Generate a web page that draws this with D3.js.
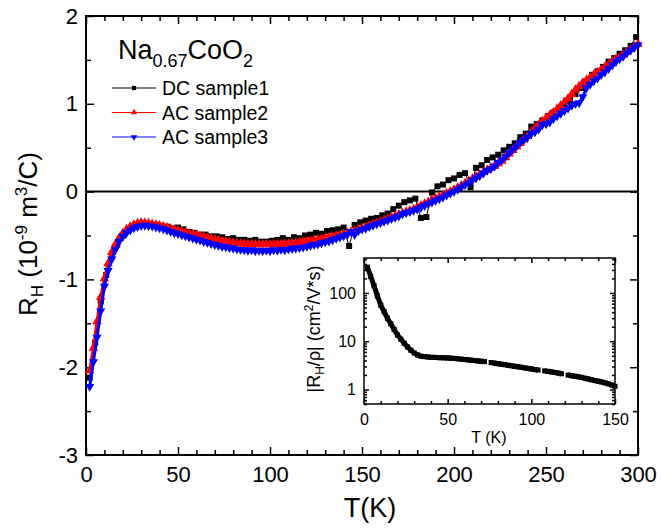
<!DOCTYPE html>
<html>
<head>
<meta charset="utf-8">
<title>Hall coefficient Na0.67CoO2</title>
<script src="https://d3js.org/d3.v7.min.js"></script>
<style>
  body { margin: 0; background: #fff; }
  text { font-family: "Liberation Sans", Arial, sans-serif; fill: #000; }
</style>
</head>
<body>
<svg id="chart" width="663" height="530"></svg>
<script>
// ---- values ----
// AC sweeps, every 2 K
const tempAC = d3.range(2, 301, 2);
const rhSample2 = [
  -2.04, -1.78, -1.48, -1.20, -0.99, -0.82, -0.69, -0.60, -0.53, -0.475,
  -0.43, -0.40, -0.378, -0.362, -0.355, -0.357, -0.362, -0.37, -0.378, -0.388,
  -0.398, -0.41, -0.42, -0.432, -0.445, -0.455, -0.465, -0.475, -0.485, -0.495,
  -0.505, -0.515, -0.525, -0.535, -0.545, -0.555, -0.563, -0.57, -0.577, -0.583,
  -0.588, -0.592, -0.596, -0.598, -0.6, -0.602, -0.603, -0.603, -0.603, -0.602,
  -0.601, -0.6, -0.598, -0.595, -0.592, -0.588, -0.583, -0.578, -0.572, -0.566,
  -0.56, -0.553, -0.546, -0.538, -0.53, -0.521, -0.512, -0.503, -0.494, -0.485,
  -0.473, -0.46, -0.447, -0.433, -0.418, -0.403, -0.388, -0.372, -0.357, -0.342,
  -0.326, -0.31, -0.294, -0.278, -0.262, -0.246, -0.231, -0.216, -0.201, -0.18,
  -0.16, -0.14, -0.12, -0.10, -0.08, -0.06, -0.04, -0.02, 0.0, 0.02,
  0.045, 0.07, 0.095, 0.12, 0.145, 0.17, 0.195, 0.22, 0.245, 0.27,
  0.29, 0.32, 0.35, 0.39, 0.43, 0.47, 0.51, 0.55, 0.59, 0.63,
  0.68, 0.72, 0.76, 0.80, 0.835, 0.87, 0.90, 0.94, 0.98, 1.02,
  1.06, 1.11, 1.16, 1.20, 1.24, 1.27, 1.30, 1.33, 1.36, 1.39,
  1.42, 1.45, 1.48, 1.51, 1.53, 1.56, 1.59, 1.62, 1.65, 1.68
];
const rhSample3 = [
  -2.22, -1.94, -1.66, -1.36, -1.08, -0.90, -0.77, -0.66, -0.57, -0.51,
  -0.47, -0.44, -0.415, -0.40, -0.39, -0.385, -0.39, -0.395, -0.405, -0.415,
  -0.425, -0.44, -0.455, -0.47, -0.48, -0.495, -0.505, -0.52, -0.53, -0.545,
  -0.555, -0.57, -0.58, -0.595, -0.605, -0.615, -0.625, -0.63, -0.64, -0.645,
  -0.655, -0.66, -0.665, -0.67, -0.665, -0.675, -0.67, -0.675, -0.67, -0.675,
  -0.665, -0.67, -0.66, -0.665, -0.655, -0.65, -0.645, -0.64, -0.635, -0.625,
  -0.615, -0.605, -0.6, -0.585, -0.575, -0.565, -0.55, -0.535, -0.52, -0.505,
  -0.49, -0.455, -0.49, -0.45, -0.43, -0.42, -0.40, -0.385, -0.37, -0.355,
  -0.34, -0.325, -0.31, -0.295, -0.28, -0.255, -0.24, -0.23, -0.215, -0.20,
  -0.18, -0.16, -0.14, -0.12, -0.10, -0.085, -0.065, -0.04, -0.02, 0.0,
  0.025, 0.05, 0.075, 0.10, 0.13, 0.155, 0.18, 0.21, 0.24, 0.26,
  0.29, 0.33, 0.36, 0.40, 0.44, 0.48, 0.52, 0.56, 0.59, 0.62,
  0.66, 0.68, 0.71, 0.76, 0.77, 0.79, 0.83, 0.86, 0.89, 0.92,
  0.95, 0.98, 1.00, 1.01, 1.08, 1.18, 1.22, 1.26, 1.29, 1.33,
  1.36, 1.40, 1.44, 1.48, 1.51, 1.54, 1.58, 1.61, 1.64, 1.67
];
// DC sweep, every 3 K
const tempDC = d3.range(2, 300, 3);
const rhSample1 = [
  -2.12, -1.72, -1.25, -0.95, -0.74, -0.60, -0.50, -0.43, -0.40, -0.375,
  -0.37, -0.375, -0.38, -0.39, -0.40, -0.42, -0.41, -0.43, -0.46, -0.47,
  -0.49, -0.49, -0.51, -0.51, -0.52, -0.54, -0.53, -0.55, -0.55, -0.56,
  -0.55, -0.57, -0.57, -0.56, -0.55, -0.53, -0.55, -0.52, -0.53, -0.50,
  -0.49, -0.47, -0.48, -0.45, -0.44, -0.43, -0.41, -0.62, -0.38, -0.35,
  -0.33, -0.31, -0.30, -0.27, -0.25, -0.20, -0.16, -0.12, -0.10, -0.08,
  -0.30, -0.29, -0.01, 0.06, 0.08, 0.13, 0.15, 0.19, 0.21, 0.05,
  0.27, 0.30, 0.36, 0.39, 0.42, 0.47, 0.51, 0.55, 0.62, 0.66,
  0.74, 0.77, 0.81, 0.86, 0.90, 0.94, 0.98, 1.04, 1.11, 1.18,
  1.24, 1.33, 1.37, 1.42, 1.48, 1.52, 1.57, 1.61, 1.66, 1.76
];
// inset |R_H/rho|, every 2 K (null = gap in the trace)
const tempInset = d3.range(2, 151, 2);
const mobility = [
  342, 219, 141, 87, 56, 41, 30, 23, 17.5, 13.5,
  11, 9.1, 7.6, 6.5, 5.7, 5.2, 4.9, 4.8, 4.72, 4.66,
  4.62, 4.58, 4.55, 4.53, 4.5, 4.45, 4.4, 4.33, 4.25, 4.18,
  4.11, 4.05, 3.98, 3.91, 3.85, 3.78, null, 3.62, 3.52, 3.42,
  3.35, 3.27, 3.18, 3.1, 3.02, 2.95, 2.88, 2.8, 2.73, 2.66,
  2.59, 2.53, null, 2.43, 2.37, 2.31, 2.25, 2.19, 2.12, null,
  1.99, 1.93, 1.88, 1.83, 1.78, 1.71, 1.65, 1.59, 1.53, 1.48,
  1.43, 1.37, 1.31, 1.24, 1.16
];

const xTicks = [0, 50, 100, 150, 200, 250, 300];
const yTicks = [-3, -2, -1, 0, 1, 2];
const insetXTicks = [0, 50, 100, 150];
const insetYTicks = [1, 10, 100];

const series = [
  { name: "DC sample1", t: tempDC, v: rhSample1, color: "#000", symbol: d3.symbolSquare, size: 36, flip: false, width: 1 },
  { name: "AC sample2", t: tempAC, v: rhSample2, color: "#ff0000", symbol: d3.symbolTriangle, size: 40, flip: false, width: 3 },
  { name: "AC sample3", t: tempAC, v: rhSample3, color: "#0000ff", symbol: d3.symbolTriangle, size: 36, flip: true, width: 3 }
];

const svg = d3.select("#chart");
const font = 22;

const x = d3.scaleLinear([0, 300], [86, 638]);
const y = d3.scaleLinear([-3, 2], [455, 16]);
const ix = d3.scaleLinear([0, 150], [364, 615]);
const iy = d3.scaleLog([0.5, 530], [404, 258]);

const axisFns = { bottom: d3.axisBottom, top: d3.axisTop, left: d3.axisLeft, right: d3.axisRight };

// ticks point inward, so the size is negative
const addAxis = (side, scale, shift, values, size, pad, fmt, fontSize) => {
  const axis = axisFns[side](scale).tickValues(values).tickSize(-size).tickPadding(pad)
    .tickFormat(fmt || (() => ""));
  const g = svg.append("g").attr("transform", shift).call(axis);
  g.select(".domain").remove();
  g.attr("font-family", null).attr("font-size", fontSize || font);
  g.selectAll("line").attr("stroke", "#000").attr("stroke-width", 1.5);
  return g;
};

const minorOf = (all, major) => all.filter(v => !major.some(m => Math.abs(m - v) < 1e-9));
const plain = d => String(d);

// ---- main frame ----
const mainAxes = () => {
  const xMinor = minorOf(d3.range(0, 301, 10), xTicks);
  const yMinor = minorOf(d3.range(-3, 2.01, 0.5), yTicks);

  addAxis("bottom", x, "translate(0,455)", xTicks, 8, 11, plain);
  addAxis("bottom", x, "translate(0,455)", xMinor, 5, 0);
  addAxis("top", x, "translate(0,16)", xTicks, 8, 0);
  addAxis("top", x, "translate(0,16)", xMinor, 5, 0);
  addAxis("left", y, "translate(86,0)", yTicks, 8, 8, plain);
  addAxis("left", y, "translate(86,0)", yMinor, 5, 0);
  addAxis("right", y, "translate(638,0)", yTicks, 8, 0);
  addAxis("right", y, "translate(638,0)", yMinor, 5, 0);

  svg.append("rect")
    .attr("x", x(0)).attr("y", y(2))
    .attr("width", x(300) - x(0)).attr("height", y(-3) - y(2))
    .attr("fill", "none").attr("stroke", "#000").attr("stroke-width", 2);

  svg.append("line")
    .attr("x1", x(0)).attr("x2", x(300)).attr("y1", y(0)).attr("y2", y(0))
    .attr("stroke", "#000").attr("stroke-width", 2);
};

const drawSeries = (g, s, sx, sy) => {
  const pts = s.t.map((t, i) => ({ t, v: s.v[i] }));
  g.append("path").datum(pts)
    .attr("d", d3.line().defined(d => d.v != null).x(d => sx(d.t)).y(d => sy(d.v)))
    .attr("fill", "none").attr("stroke", s.color).attr("stroke-width", s.width);
  g.selectAll(null).data(pts.filter(d => d.v != null)).join("path")
    .attr("transform", d => `translate(${sx(d.t)},${sy(d.v)})${s.flip ? " rotate(180)" : ""}`)
    .attr("d", d3.symbol(s.symbol, s.size))
    .attr("fill", s.color);
};

const legend = () => {
  const title = svg.append("text").attr("x", 118).attr("y", 59).attr("font-size", 27);
  title.append("tspan").text("Na");
  title.append("tspan").attr("font-size", 18).attr("dy", 8).text("0.67");
  title.append("tspan").attr("dy", -8).text("CoO");
  title.append("tspan").attr("font-size", 18).attr("dy", 8).text("2");

  series.forEach((s, i) => {
    const cy = 88 + i * 24.5;
    svg.append("line").attr("x1", 112).attr("x2", 156).attr("y1", cy).attr("y2", cy)
      .attr("stroke", s.color).attr("stroke-width", 1.2);
    svg.append("path")
      .attr("transform", `translate(134,${cy})${s.flip ? " rotate(180)" : ""}`)
      .attr("d", d3.symbol(s.symbol, 18)).attr("fill", s.color);
    svg.append("text").attr("x", 162).attr("y", cy + 7).attr("font-size", 19.5).text(s.name);
  });
};

const titles = () => {
  svg.append("text").attr("x", 370).attr("y", 517).attr("text-anchor", "middle")
    .attr("font-size", 27).text("T(K)");

  const yt = svg.append("text").attr("transform", "translate(37,234) rotate(-90)")
    .attr("text-anchor", "middle").attr("font-size", 26);
  yt.append("tspan").text("R");
  yt.append("tspan").attr("font-size", 17).attr("dy", 6).text("H");
  yt.append("tspan").attr("dy", -6).text(" (10");
  yt.append("tspan").attr("font-size", 17).attr("dy", -10).text("-9");
  yt.append("tspan").attr("dy", 10).text(" m");
  yt.append("tspan").attr("font-size", 17).attr("dy", -10).text("3");
  yt.append("tspan").attr("dy", 10).text("/C)");
};

const inset = () => {
  svg.append("rect").attr("x", ix(0)).attr("y", iy(530))
    .attr("width", ix(150) - ix(0)).attr("height", iy(0.5) - iy(530)).attr("fill", "#fff");

  const xMinor = minorOf(d3.range(0, 151, 10), insetXTicks);
  const yMinor = minorOf(iy.ticks().filter(v => v >= 0.5 && v <= 530), insetYTicks);

  addAxis("bottom", ix, "translate(0,404)", insetXTicks, 5, 10, plain, 16);
  addAxis("bottom", ix, "translate(0,404)", xMinor, 3, 0, null, 16);
  addAxis("top", ix, "translate(0,258)", insetXTicks, 5, 0, null, 16);
  addAxis("top", ix, "translate(0,258)", xMinor, 3, 0, null, 16);
  addAxis("left", iy, "translate(364,0)", insetYTicks, 5, 8, plain, 16);
  addAxis("left", iy, "translate(364,0)", yMinor, 3, 0, null, 16);
  addAxis("right", iy, "translate(615,0)", insetYTicks, 5, 0, null, 16);
  addAxis("right", iy, "translate(615,0)", yMinor, 3, 0, null, 16);

  svg.append("rect").attr("x", ix(0)).attr("y", iy(530))
    .attr("width", ix(150) - ix(0)).attr("height", iy(0.5) - iy(530))
    .attr("fill", "none").attr("stroke", "#000").attr("stroke-width", 1.5);

  const g = svg.append("g");
  drawSeries(g, { t: tempInset, v: mobility, color: "#000", symbol: d3.symbolSquare, size: 26, flip: false, width: 5 }, ix, iy);

  svg.append("text").attr("x", 489).attr("y", 443).attr("text-anchor", "middle")
    .attr("font-size", 16).text("T (K)");

  const yt = svg.append("text").attr("transform", "translate(320,329) rotate(-90)")
    .attr("text-anchor", "middle").attr("font-size", 18);
  yt.append("tspan").text("|R");
  yt.append("tspan").attr("font-size", 12).attr("dy", 4).text("H");
  yt.append("tspan").attr("dy", -4).text("/\u03c1| (cm");
  yt.append("tspan").attr("font-size", 12).attr("dy", -7).text("2");
  yt.append("tspan").attr("dy", 7).text("/V*s)");
};

mainAxes();
const data = svg.append("g");
series.forEach(s => drawSeries(data, s, x, y));
legend();
titles();
inset();
</script>
</body>
</html>
